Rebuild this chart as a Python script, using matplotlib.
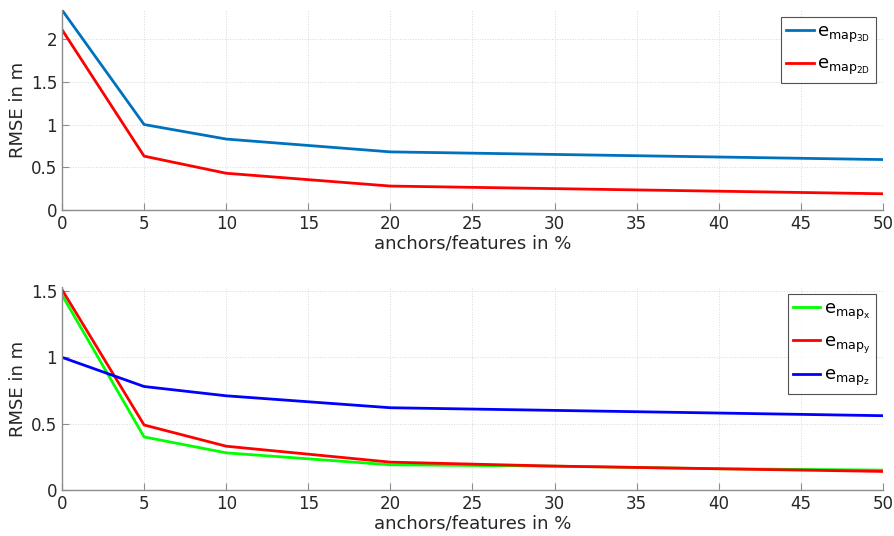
import numpy as np
import matplotlib
matplotlib.use('Agg')
from matplotlib import pyplot as plt

plt.rcParams['font.family'] = 'DejaVu Sans'
plt.rcParams['mathtext.fontset'] = 'dejavusans'
plt.rcParams['font.size'] = 12

# anchor/feature share in percent
pct = [0, 5, 10, 20, 30, 40, 50]

# overall map error
e_map_3d = [2.34, 1.00, 0.83, 0.68, 0.65, 0.62, 0.59]
e_map_2d = [2.11, 0.63, 0.43, 0.28, 0.25, 0.22, 0.19]

# per-axis map error
e_map_x = [1.47, 0.40, 0.28, 0.19, 0.18, 0.16, 0.15]
e_map_y = [1.51, 0.49, 0.33, 0.21, 0.18, 0.16, 0.14]
e_map_z = [1.00, 0.78, 0.71, 0.62, 0.60, 0.58, 0.56]

fig = plt.figure(figsize=(8.95, 5.36), dpi=100)
ax1 = fig.add_axes([62/895, 1-210/536, 821/895, 200/536])
ax2 = fig.add_axes([62/895, 1-490/536, 821/895, 203/536])


def style(ax, ymax, yticks, yticklabels):
    ax.set_xlim(0, 50)
    ax.set_ylim(0, ymax)
    ax.set_xticks(range(0, 55, 5))
    ax.set_yticks(yticks)
    ax.set_yticklabels(yticklabels)
    ax.grid(True, linestyle=':', color='#d9d9d9', linewidth=0.7)
    ax.set_axisbelow(True)
    for s in ['top', 'right']:
        ax.spines[s].set_visible(False)
    for s in ['left', 'bottom']:
        ax.spines[s].set_color('#8c8c8c')
        ax.spines[s].set_linewidth(1.0)
    ax.tick_params(direction='in', colors='#8c8c8c', labelcolor='#262626',
                   labelsize=12, length=5)
    ax.set_xlabel('anchors/features in %', fontsize=13, color='#262626', labelpad=1)
    ax.set_ylabel('RMSE in m', fontsize=13, color='#262626', labelpad=3)


ax1.plot(pct, e_map_3d, color='#0072BD', lw=2, label=r'$\mathrm{e_{map_{3D}}}$')
ax1.plot(pct, e_map_2d, color='#FF0000', lw=2, label=r'$\mathrm{e_{map_{2D}}}$')
style(ax1, 2.34, [0, 0.5, 1, 1.5, 2], ['0', '0.5', '1', '1.5', '2'])

ax2.plot(pct, e_map_x, color='#00FF00', lw=2, label=r'$\mathrm{e_{map_{x}}}$')
ax2.plot(pct, e_map_y, color='#FF0000', lw=2, label=r'$\mathrm{e_{map_{y}}}$')
ax2.plot(pct, e_map_z, color='#0000FF', lw=2, label=r'$\mathrm{e_{map_{z}}}$')
style(ax2, 1.53, [0, 0.5, 1, 1.5], ['0', '0.5', '1', '1.5'])

for ax in (ax1, ax2):
    leg = ax.legend(loc='upper right', fontsize=13, frameon=True, fancybox=False,
                    handlelength=1.5, handletextpad=0.2, borderpad=0.3,
                    labelspacing=0.6, borderaxespad=0.4)
    leg.get_frame().set_edgecolor('#262626')
    leg.get_frame().set_linewidth(0.8)

plt.savefig('out.png', dpi=100)
